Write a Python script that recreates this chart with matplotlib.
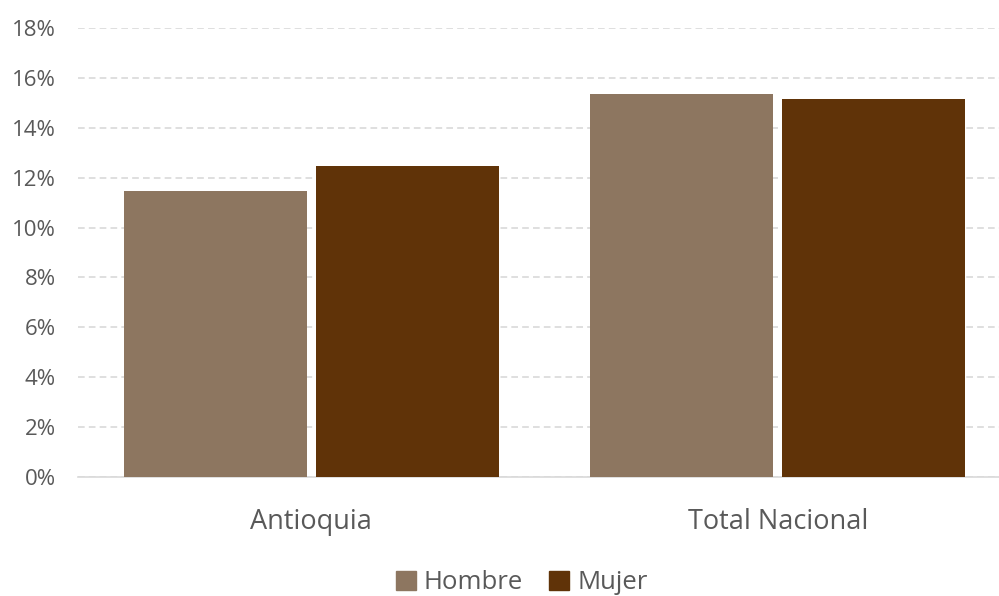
import numpy as np
import matplotlib.pyplot as plt
from matplotlib.patches import Patch
from matplotlib.ticker import FuncFormatter

# Datos
categorias = ["Antioquia", "Total Nacional"]
hombre = [0.1147, 0.1534]
mujer = [0.1247, 0.1517]
yticks = np.arange(0, 0.19, 0.02)

color_hombre = "#8D7660"
color_mujer = "#603308"

plt.rcParams['font.family'] = ['Open Sans', 'DejaVu Sans']

fig = plt.figure(figsize=(9.99, 5.96), dpi=100)
ax = fig.add_axes([0.078, 0.1997, 0.934, 0.7533])

x = np.arange(len(categorias))
ax.bar(x - 0.206, hombre, width=0.392, color=color_hombre, zorder=3)
ax.bar(x + 0.206, mujer, width=0.392, color=color_mujer, zorder=3)

ax.set_xlim(-0.5, 1.5)
ax.set_ylim(0, 0.18)
ax.set_yticks(yticks)
ax.yaxis.set_major_formatter(FuncFormatter(lambda v, p: f"{v*100:.0f}%"))
ax.set_xticks(x)
ax.set_xticklabels(categorias, fontsize=19.5, color="#595959")
ax.tick_params(axis="y", labelsize=16, labelcolor="#595959", length=0, pad=16)
ax.tick_params(axis="x", length=0, pad=22)

ax.grid(axis="y", color="#D9D9D9", linestyle=(0, (4, 2.5)), linewidth=1.2, zorder=0)
for s in ["top", "right", "left"]:
    ax.spines[s].set_visible(False)
ax.spines["bottom"].set_color("#D9D9D9")
ax.spines["bottom"].set_linewidth(1.2)

handles = [Patch(color=color_hombre, label="Hombre"), Patch(color=color_mujer, label="Mujer")]
fig.legend(handles=handles, loc="center", bbox_to_anchor=(0.522, 0.022), ncol=2, frameon=False,
           fontsize=18.5, handlelength=0.8, handleheight=0.8, handletextpad=0.3, columnspacing=1.0,
           labelcolor="#595959")

fig.savefig("out.png", dpi=100)
